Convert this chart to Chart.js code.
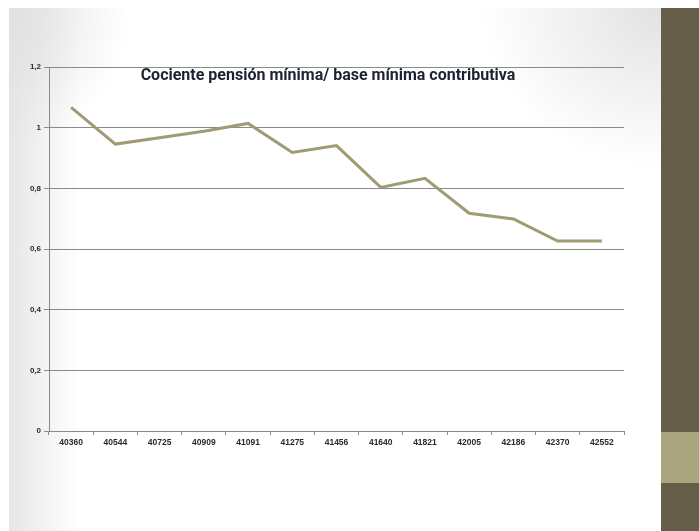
<!DOCTYPE html>
<html>
<head>
<meta charset="utf-8">
<script src="https://cdn.jsdelivr.net/npm/chart.js@4.4.1/dist/chart.umd.min.js"></script>
<style>
  html, body { margin: 0; padding: 0; background: #ffffff; }
  #wrap { position: relative; width: 699px; height: 531px; overflow: hidden; background: #ffffff; }
  #slide { position: absolute; left: 9px; top: 8px; width: 652px; height: 523px;
    background:
      radial-gradient(ellipse 180px 160px at 100% 0%, rgba(226,226,226,1), rgba(255,255,255,0) 100%),
      radial-gradient(ellipse 120px 140px at 0% 0%, rgba(225,225,225,1), rgba(255,255,255,0) 100%),
      linear-gradient(to right, #e6e6e6 0px, rgba(255,255,255,0) 70px),
      #ffffff; }
  #barDark { position: absolute; left: 661px; top: 8px; width: 38px; height: 523px; background: #665e48; }
  #barLight { position: absolute; left: 661px; top: 432px; width: 38px; height: 51px; background: #a9a57e; }
  #c { position: absolute; left: 0; top: 0; }
</style>
</head>
<body>
<div id="wrap">
  <div id="slide"></div>
  <div id="barDark"></div>
  <div id="barLight"></div>
  <canvas id="c" width="699" height="531"></canvas>
</div>
<script>
const chartTitle = 'Cociente pensión mínima/ base mínima contributiva';
const categories = ['40360', '40544', '40725', '40909', '41091', '41275', '41456', '41640', '41821', '42005', '42186', '42370', '42552'];
const ratioValues = [1.067, 0.946, 0.967, 0.988, 1.014, 0.918, 0.941, 0.803, 0.833, 0.718, 0.699, 0.626, 0.626];
const yTickValues = [0, 0.2, 0.4, 0.6, 0.8, 1, 1.2];

const titlePlugin = {
  id: 'innerTitle',
  afterDraw(chart) {
    const ctx = chart.ctx;
    ctx.save();
    ctx.font = 'bold 16px Roboto';
    ctx.fillStyle = '#1d2232';
    ctx.textAlign = 'center';
    ctx.textBaseline = 'alphabetic';
    ctx.fillText(chartTitle, 328, 80, 380);
    ctx.restore();
  }
};

new Chart(document.getElementById('c'), {
  type: 'line',
  data: {
    labels: categories,
    datasets: [{
      data: ratioValues,
      borderColor: '#9f9b73',
      borderWidth: 3,
      pointRadius: 0,
      tension: 0,
      fill: false
    }]
  },
  options: {
    responsive: false,
    animation: false,
    layout: { padding: { left: 0, right: 75, top: 67, bottom: 0 } },
    plugins: { legend: { display: false }, tooltip: { enabled: false } },
    scales: {
      x: {
        type: 'category',
        offset: true,
        grid: { offset: true, drawOnChartArea: false, drawTicks: true, tickLength: 4, color: '#8a8a8a', lineWidth: 1 },
        border: { display: true, color: '#8a8a8a', width: 1 },
        ticks: { color: '#2a2a2a', font: { family: 'Liberation Sans', size: 8.5, weight: 'bold' }, padding: 3, maxRotation: 0, autoSkip: false },
        afterFit(scale) { scale.height = 100; }
      },
      y: {
        min: 0, max: 1.2,
        afterBuildTicks(scale) { scale.ticks = yTickValues.map(v => ({ value: v })); },
        grid: { color: '#8a8a8a', lineWidth: 1, drawTicks: true, tickLength: 5 },
        border: { display: true, color: '#8a8a8a', width: 1 },
        ticks: {
          color: '#2a2a2a',
          font: { family: 'Liberation Sans', size: 8, weight: 'bold' },
          padding: 3,
          callback: v => String(+Number(v).toFixed(1)).replace('.', ',')
        },
        afterFit(scale) { scale.width = 49; }
      }
    }
  },
  plugins: [titlePlugin]
});
</script>
</body>
</html>
